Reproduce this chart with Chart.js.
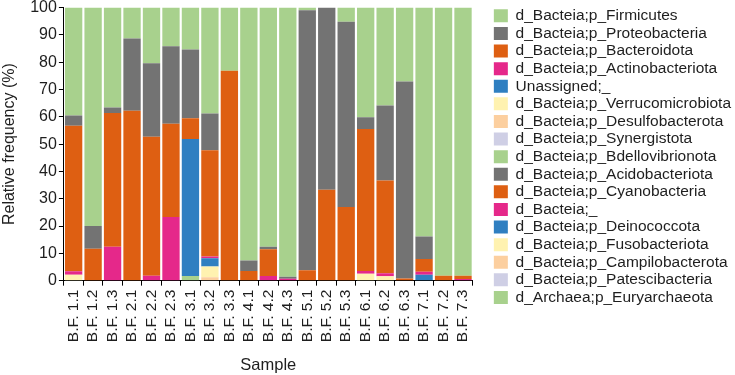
<!DOCTYPE html>
<html>
<head>
<meta charset="utf-8">
<script src="https://cdn.jsdelivr.net/npm/chart.js@4.4.1/dist/chart.umd.min.js"></script>
<style>
  html, body { margin: 0; padding: 0; background: #ffffff; }
  #wrap { position: relative; width: 735px; height: 375px; }
</style>
</head>
<body>
<div id="wrap"><canvas id="c" width="735" height="375"></canvas></div>
<script>
// ---- DATA ----
const samples = ["B.F. 1.1","B.F. 1.2","B.F. 1.3","B.F. 2.1","B.F. 2.2","B.F. 2.3","B.F. 3.1","B.F. 3.2","B.F. 3.3","B.F. 4.1","B.F. 4.2","B.F. 4.3","B.F. 5.1","B.F. 5.2","B.F. 5.3","B.F. 6.1","B.F. 6.2","B.F. 6.3","B.F. 7.1","B.F. 7.2","B.F. 7.3"];
const yTicks = [0,10,20,30,40,50,60,70,80,90,100];

// series listed in legend order (top of legend = top of stack)
const firmicutes       = [39.5,80.0,36.6,11.3,20.4,14.2,15.3,38.8,23.1,92.6,87.6,98.6, 1.0, 0.0, 5.2,40.2,35.9,27.1,83.8,98.2,98.2];
const proteobacteria   = [ 3.8, 8.3, 2.0,26.5,26.9,28.3,25.2,13.4, 0.0, 3.9, 0.9, 0.7,95.2,66.7,67.8, 4.3,27.4,72.1, 8.3, 0.0, 0.0];
const bacteroidota     = [53.3,11.7,49.0,62.2,50.9,34.2, 7.6,39.0,76.9, 3.5, 9.8, 0.0, 3.8,33.3,27.0,52.0,34.0, 0.8, 4.6, 1.8, 1.2];
const actinobacteriota = [ 1.2, 0.0,12.4, 0.0, 1.8,23.3, 0.0, 0.6, 0.0, 0.0, 1.7, 0.7, 0.0, 0.0, 0.0, 1.0, 1.1, 0.0, 1.1, 0.0, 0.6];
const unassigned       = [ 0.0, 0.0, 0.0, 0.0, 0.0, 0.0,50.2, 3.0, 0.0, 0.0, 0.0, 0.0, 0.0, 0.0, 0.0, 0.0, 0.0, 0.0, 2.2, 0.0, 0.0];
const verrucomicrobiota= [ 2.2, 0.0, 0.0, 0.0, 0.0, 0.0, 0.0, 4.0, 0.0, 0.0, 0.0, 0.0, 0.0, 0.0, 0.0, 2.5, 1.6, 0.0, 0.0, 0.0, 0.0];
const desulfobacterota = [ 0.0, 0.0, 0.0, 0.0, 0.0, 0.0, 0.0, 1.2, 0.0, 0.0, 0.0, 0.0, 0.0, 0.0, 0.0, 0.0, 0.0, 0.0, 0.0, 0.0, 0.0];
const synergistota     = [ 0.0, 0.0, 0.0, 0.0, 0.0, 0.0, 0.0, 0.0, 0.0, 0.0, 0.0, 0.0, 0.0, 0.0, 0.0, 0.0, 0.0, 0.0, 0.0, 0.0, 0.0];
const bdellovibrionota = [ 0.0, 0.0, 0.0, 0.0, 0.0, 0.0, 1.7, 0.0, 0.0, 0.0, 0.0, 0.0, 0.0, 0.0, 0.0, 0.0, 0.0, 0.0, 0.0, 0.0, 0.0];
const acidobacteriota  = [ 0.0, 0.0, 0.0, 0.0, 0.0, 0.0, 0.0, 0.0, 0.0, 0.0, 0.0, 0.0, 0.0, 0.0, 0.0, 0.0, 0.0, 0.0, 0.0, 0.0, 0.0];
const cyanobacteria    = [ 0.0, 0.0, 0.0, 0.0, 0.0, 0.0, 0.0, 0.0, 0.0, 0.0, 0.0, 0.0, 0.0, 0.0, 0.0, 0.0, 0.0, 0.0, 0.0, 0.0, 0.0];
const bacteiaUnknown   = [ 0.0, 0.0, 0.0, 0.0, 0.0, 0.0, 0.0, 0.0, 0.0, 0.0, 0.0, 0.0, 0.0, 0.0, 0.0, 0.0, 0.0, 0.0, 0.0, 0.0, 0.0];
const deinococcota     = [ 0.0, 0.0, 0.0, 0.0, 0.0, 0.0, 0.0, 0.0, 0.0, 0.0, 0.0, 0.0, 0.0, 0.0, 0.0, 0.0, 0.0, 0.0, 0.0, 0.0, 0.0];
const fusobacteriota   = [ 0.0, 0.0, 0.0, 0.0, 0.0, 0.0, 0.0, 0.0, 0.0, 0.0, 0.0, 0.0, 0.0, 0.0, 0.0, 0.0, 0.0, 0.0, 0.0, 0.0, 0.0];
const campilobacterota = [ 0.0, 0.0, 0.0, 0.0, 0.0, 0.0, 0.0, 0.0, 0.0, 0.0, 0.0, 0.0, 0.0, 0.0, 0.0, 0.0, 0.0, 0.0, 0.0, 0.0, 0.0];
const patescibacteria  = [ 0.0, 0.0, 0.0, 0.0, 0.0, 0.0, 0.0, 0.0, 0.0, 0.0, 0.0, 0.0, 0.0, 0.0, 0.0, 0.0, 0.0, 0.0, 0.0, 0.0, 0.0];
const euryarchaeota    = [ 0.0, 0.0, 0.0, 0.0, 0.0, 0.0, 0.0, 0.0, 0.0, 0.0, 0.0, 0.0, 0.0, 0.0, 0.0, 0.0, 0.0, 0.0, 0.0, 0.0, 0.0];

const seriesNames = [
  "d_Bacteia;p_Firmicutes","d_Bacteia;p_Proteobacteria","d_Bacteia;p_Bacteroidota","d_Bacteia;p_Actinobacteriota",
  "Unassigned;_","d_Bacteia;p_Verrucomicrobiota","d_Bacteia;p_Desulfobacterota","d_Bacteia;p_Synergistota",
  "d_Bacteia;p_Bdellovibrionota","d_Bacteia;p_Acidobacteriota","d_Bacteia;p_Cyanobacteria","d_Bacteia;_",
  "d_Bacteia;p_Deinococcota","d_Bacteia;p_Fusobacteriota","d_Bacteia;p_Campilobacterota","d_Bacteia;p_Patescibacteria",
  "d_Archaea;p_Euryarchaeota"
];
const seriesValues = [firmicutes, proteobacteria, bacteroidota, actinobacteriota, unassigned, verrucomicrobiota,
  desulfobacterota, synergistota, bdellovibrionota, acidobacteriota, cyanobacteria, bacteiaUnknown, deinococcota,
  fusobacteriota, campilobacterota, patescibacteria, euryarchaeota];

// ---- STYLE ----
const palette = ["#a8d18d","#737373","#de5f12","#e5288a","#2f7fc1","#fff2b0","#fccf9f","#cfcfe5"];
const FONT = "'Liberation Sans', Arial, Helvetica, sans-serif";
const TXT = "#1e1e1e";

const datasets = [];
for (let i = seriesNames.length - 1; i >= 0; i--) {
  datasets.push({
    label: seriesNames[i],
    data: seriesValues[i],
    backgroundColor: palette[i % palette.length],
    borderWidth: 0,
    stack: "s",
    barPercentage: 0.89,
    categoryPercentage: 1.0
  });
}

new Chart(document.getElementById("c"), {
  type: "bar",
  data: { labels: samples, datasets },
  options: {
    responsive: false,
    animation: false,
    events: [],
    layout: { padding: { top: 6, bottom: 0, left: 0, right: -6 } },
    plugins: {
      tooltip: { enabled: false },
      legend: {
        position: "right",
        align: "start",
        reverse: true,
        maxWidth: 320,
        labels: {
          boxWidth: 14,
          boxHeight: 13,
          padding: 2.1,
          color: TXT,
          font: { family: FONT, size: 15.5 }
        }
      }
    },
    scales: {
      x: {
        stacked: true,
        grid: { display: true, drawOnChartArea: false, offset: true, tickLength: 5, color: "#000", lineWidth: 1 },
        border: { display: true, color: "#000", width: 1 },
        ticks: { color: TXT, font: { family: FONT, size: 15.5 }, maxRotation: 90, minRotation: 90, padding: 4, autoSkip: false },
        title: { display: true, text: "Sample", color: TXT, font: { family: FONT, size: 16.5 }, padding: { top: 9, bottom: 0 } }
      },
      y: {
        stacked: true,
        min: 0,
        max: 100,
        afterBuildTicks: (s) => { s.ticks = yTicks.map(v => ({ value: v })); },
        grid: { display: true, drawOnChartArea: false, tickLength: 5, color: "#000", lineWidth: 1 },
        border: { display: true, color: "#000", width: 1 },
        ticks: { color: TXT, font: { family: FONT, size: 16, lineHeight: 0.7 }, padding: 2 },
        title: { display: true, text: "Relative frequency (%)", color: TXT, font: { family: FONT, size: 16 }, padding: { top: 0, bottom: 9 } }
      },
      yR: {
        type: "linear",
        position: "right",
        display: true,
        grid: { display: false },
        border: { display: false },
        ticks: { display: false },
        afterFit: (s) => { s.width = 19; }
      }
    }
  }
});
</script>
</body>
</html>
